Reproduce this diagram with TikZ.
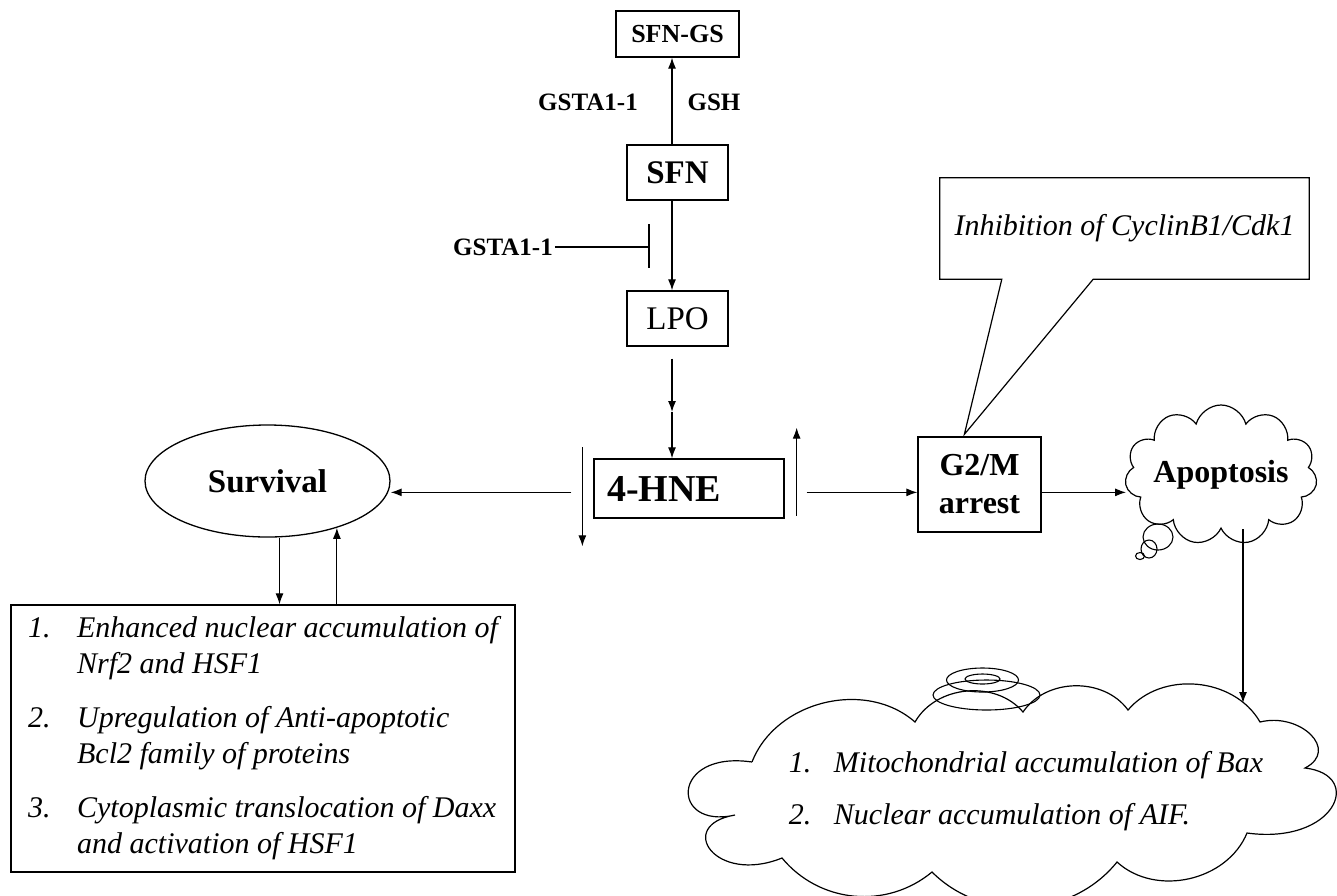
\documentclass[tikz,border=0pt]{standalone}
\usepackage{fontspec}
\setmainfont{Liberation Serif}
\usetikzlibrary{arrows.meta,calc,shapes.geometric,shapes.symbols}

\begin{document}
\begin{tikzpicture}[x=1pt,y=-1pt,
    box/.style={draw,line width=1.3pt,inner sep=0pt},
    arr/.style={-{Latex[length=11pt,width=8pt]},line width=1.2pt},
    lbl/.style={inner sep=2pt,font=\fontsize{25}{30}\selectfont\bfseries},
    puff/.style={cloud,draw,line width=1.2pt,inner sep=0pt,cloud ignores aspect},
    ring/.style={line width=1.1pt}]
    \useasboundingbox (0,0) rectangle (1337,895);

    % upper chain
    \node[box,minimum width=123pt,minimum height=46pt,font=\fontsize{26}{30}\selectfont\bfseries] (sfngs) at (677.5,34) {SFN-GS};
    \node[box,minimum width=101pt,minimum height=55pt,font=\fontsize{33}{38}\selectfont\bfseries] (sfn) at (677.5,172.5) {SFN};
    \node[box,minimum width=101pt,minimum height=55pt,font=\fontsize{33}{38}\selectfont] (lpo) at (677.5,318.5) {LPO};
    \node[box,minimum width=190pt,minimum height=59pt,text width=164pt,align=left,font=\fontsize{38}{42}\selectfont\bfseries] (hne) at (689,488.5) {4-HNE};
    \node[lbl] (gsta) at (588,102) {GSTA1-1};
    \node[lbl] (gsh) at (714,102) {GSH};
    \node[lbl] (gsti) at (503,247) {GSTA1-1};

    \coordinate (col) at (672,0);
    \coordinate (hmid) at (672,412);
    \draw[arr] (col |- sfn.north) -- (col |- sfngs.south);
    \draw[arr] (col |- sfn.south) -- (col |- lpo.north);
    \draw[arr,shorten <=12pt] (col |- lpo.south) -- (hmid);
    \draw[arr] (hmid) -- (col |- hne.north);

    % inhibition by GSTA1-1
    \coordinate (bar) at (649,247);
    \draw[line width=1.2pt] (gsti.east) -- (bar);
    \draw[line width=1.2pt] (bar) +(0,-23) -- +(0,21);

    % survival side
    \node[ellipse,box,minimum width=245pt,minimum height=112pt,font=\fontsize{33}{38}\selectfont\bfseries] (surv) at (267.5,481) {Survival};
    \node[box,minimum width=504pt,minimum height=267pt,font=\fontsize{30}{36}\selectfont\itshape] (lbox) at (263,738.5) {%
        \begin{tabular}{@{}p{49pt}@{}l@{}}
        1. & Enhanced nuclear accumulation of\\
           & Nrf2 and HSF1\\[18pt]
        2. & Upregulation of Anti-apoptotic\\
           & Bcl2 family of proteins\\[18pt]
        3. & Cytoplasmic translocation of Daxx\\
           & and activation of HSF1
        \end{tabular}};

    \coordinate (lb) at ($(hne.north west)+(-11,-11)$);
    \coordinate (ls) at ($(hne.north west)+(-22,34)$);
    \draw[arr] (lb) -- ++(0,99);
    \draw[arr] (ls) -- (ls -| surv.east);
    \coordinate (sd) at ($(surv.south)+(12,0)$);
    \draw[arr] (sd) -- (sd |- lbox.north);
    \draw[arr] (surv.-34 |- lbox.north) -- (surv.-34);

    % arrest and apoptosis side
    \node[box,minimum width=123pt,minimum height=95pt,align=center,font=\fontsize{32}{38}\selectfont\bfseries] (g2m) at (979.5,484.5) {G2/M\\arrest};
    \node[minimum width=369pt,minimum height=101pt,inner sep=0pt,font=\fontsize{30}{36}\selectfont\itshape] (inhib) at (1124.5,228.5) {Inhibition of CyclinB1/Cdk1};
    \coordinate (tip) at ($(g2m.north west)+(47,-2)$);
    \draw[line width=1.2pt] (inhib.north west) -- (inhib.north east) -- (inhib.south east) -- ++(-216,0)
        -- (tip) -- ($(inhib.south west)+(62,0)$) -- (inhib.south west) -- cycle;

    \node[puff,cloud puffs=11,minimum width=172pt,minimum height=140pt,font=\fontsize{32}{38}\selectfont\bfseries] (apop) at (1221,475) {Apoptosis};
    \draw[ring] (1158,537) ellipse [x radius=15,y radius=13];
    \draw[ring] (1149,549) ellipse [x radius=8,y radius=9];
    \draw[ring] (1140,556) ellipse [x radius=4.5,y radius=3.5];

    % lower cloud
    \draw[line width=1.2pt] (752,762) to[bend left=55] (915,722) to[bend left=55] (1023,712)
        to[bend left=55] (1128,710) to[bend left=55] (1260,722)
        .. controls (1300,712) and (1340,750) .. (1305,768)
        .. controls (1365,775) and (1335,845) .. (1247,833)
        to[bend left=55] (1117,862) to[bend left=48] (932,872) to[bend left=45] (782,858)
        .. controls (715,885) and (675,825) .. (735,815)
        .. controls (670,830) and (670,750) .. (752,762);
    \node[font=\fontsize{30}{36}\selectfont\itshape] (fatetxt) at (1026,791) {%
        \begin{tabular}{@{}p{45pt}@{}l@{}}
        1. & Mitochondrial accumulation of Bax\\[16pt]
        2. & Nuclear accumulation of AIF.
        \end{tabular}};
    \draw[ring] (982.5,680) ellipse [x radius=36,y radius=12];
    \draw[ring] (982.5,679) ellipse [x radius=17.5,y radius=5];
    \draw[ring] (986.5,695) ellipse [x radius=53.5,y radius=15];
    \coordinate (fatetop) at (1244,703);

    \coordinate (rb) at ($(hne.south east)+(12,-3)$);
    \coordinate (rs) at ($(hne.north east)+(22,34)$);
    \draw[arr] (rb) -- ++(0,-88);
    \draw[arr] (rs) -- (rs -| g2m.west);
    \draw[arr] (rs -| g2m.east) -- (rs -| apop.west);
    \coordinate (ad) at ($(apop.south)+(22,0)$);
    \draw[arr] (ad) -- (ad |- fatetop);
\end{tikzpicture}
\end{document}
